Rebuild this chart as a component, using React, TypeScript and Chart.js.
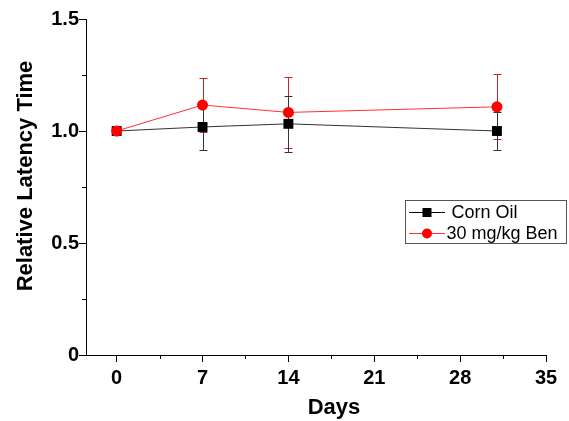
import React, { useEffect, useRef } from "react";
import { Chart, registerables } from "chart.js";

Chart.register(...registerables);

const days = [0, 7, 14, 31];
const cornOil = [1.0, 1.018, 1.032, 1.0];
const cornOilErr = [0, 0.102, 0.126, 0.086];
const ben = [1.0, 1.116, 1.083, 1.108];
const benErr = [0, 0.121, 0.16, 0.145];

const xTicks = [0, 7, 14, 21, 28, 35];
const xMinorTicks = [3.5, 10.5, 17.5, 24.5, 31.5];
const yTicks = [0, 0.5, 1.0, 1.5];
const yMinorTicks = [0.25, 0.75, 1.25];

const seriesNames = ["Corn Oil", "30 mg/kg Ben"];
const xTitle = "Days";
const yTitle = "Relative Latency Time";

const FONT = '"Liberation Sans", Arial, sans-serif';

const W = 569;
const H = 421;

export default function App() {
  const ref = useRef<HTMLCanvasElement | null>(null);

  useEffect(() => {
    const canvas = ref.current;
    if (!canvas) return;

    const extras = {
      id: "extras",
      beforeDatasetsDraw(chart: any) {
        const ctx = chart.ctx;
        const xs = chart.scales.x;
        const ys = chart.scales.y;
        const drawErr = (vals: number[], errs: number[], color: string) => {
          ctx.save();
          ctx.strokeStyle = color;
          ctx.lineWidth = 1;
          vals.forEach((v, i) => {
            const e = errs[i];
            if (!e) return;
            const x = Math.round(xs.getPixelForValue(days[i])) + 0.5;
            const yt = Math.round(ys.getPixelForValue(v + e)) + 0.5;
            const yb = Math.round(ys.getPixelForValue(v - e)) + 0.5;
            ctx.beginPath();
            ctx.moveTo(x, yt);
            ctx.lineTo(x, yb);
            ctx.moveTo(x - 4, yt);
            ctx.lineTo(x + 4, yt);
            ctx.moveTo(x - 4, yb);
            ctx.lineTo(x + 4, yb);
            ctx.stroke();
          });
          ctx.restore();
        };
        drawErr(ben, benErr, "#d02020");
        drawErr(cornOil, cornOilErr, "#333333");
      },
      afterDraw(chart: any) {
        const ctx = chart.ctx;
        const xs = chart.scales.x;
        const ys = chart.scales.y;
        ctx.save();
        // minor ticks
        ctx.strokeStyle = "#000";
        ctx.lineWidth = 1;
        ctx.beginPath();
        const ax = chart.chartArea.left;
        const ay = chart.chartArea.bottom;
        yMinorTicks.forEach((v) => {
          const y = Math.round(ys.getPixelForValue(v)) + 0.5;
          ctx.moveTo(ax - 4, y);
          ctx.lineTo(ax, y);
        });
        xMinorTicks.forEach((v) => {
          const x = Math.round(xs.getPixelForValue(v)) + 0.5;
          ctx.moveTo(x, ay);
          ctx.lineTo(x, ay + 4);
        });
        ctx.stroke();

        // axis titles
        ctx.fillStyle = "#000";
        ctx.font = `bold 22px ${FONT}`;
        ctx.textAlign = "center";
        ctx.textBaseline = "alphabetic";
        ctx.fillText(xTitle, 334, 414);
        ctx.save();
        ctx.translate(32, 176);
        ctx.rotate(-Math.PI / 2);
        ctx.fillText(yTitle, 0, 0);
        ctx.restore();

        // legend
        const bx = 405.5, by = 200.5, bw = 161, bh = 43;
        ctx.strokeStyle = "#555";
        ctx.lineWidth = 1;
        ctx.strokeRect(bx, by, bw, bh);
        const rows = [
          { y: 212.5, color: "#000", style: "rect", tx: 451.5 },
          { y: 233.5, color: "#ff0000", style: "circle", tx: 446.5 },
        ];
        ctx.font = `18px ${FONT}`;
        ctx.textAlign = "left";
        ctx.textBaseline = "middle";
        rows.forEach((r, i) => {
          ctx.strokeStyle = r.color === "#000" ? "#000" : "#ff3030";
          ctx.beginPath();
          ctx.moveTo(409, r.y);
          ctx.lineTo(445, r.y);
          ctx.stroke();
          ctx.fillStyle = r.color;
          if (r.style === "rect") {
            ctx.fillRect(422.5, r.y - 4.5, 9, 9);
          } else {
            ctx.beginPath();
            ctx.arc(427, r.y, 5, 0, Math.PI * 2);
            ctx.fill();
          }
          ctx.fillStyle = "#000";
          ctx.fillText(seriesNames[i], r.tx, r.y + 1);
        });
        ctx.restore();
      },
    };

    const chart = new Chart(canvas, {
      type: "line",
      data: {
        datasets: [
          {
            label: seriesNames[0],
            data: days.map((d, i) => ({ x: d, y: cornOil[i] })),
            borderColor: "#333333",
            backgroundColor: "#000000",
            borderWidth: 1,
            pointStyle: "rect",
            pointRadius: 7,
            pointBorderWidth: 0,
            pointBackgroundColor: "#000",
            tension: 0,
            order: 1,
          },
          {
            label: seriesNames[1],
            data: days.map((d, i) => ({ x: d, y: ben[i] })),
            borderColor: "#ff3030",
            backgroundColor: "#ff0000",
            borderWidth: 1,
            pointStyle: "circle",
            pointRadius: 5.5,
            pointBorderWidth: 0,
            pointBackgroundColor: "#ff0000",
            tension: 0,
            order: 0,
          },
        ],
      },
      options: {
        responsive: false,
        animation: false,
        devicePixelRatio: 1,
        layout: { padding: { top: 19, right: 23, left: 0, bottom: 0 } },
        plugins: {
          legend: { display: false },
          tooltip: { enabled: false },
        },
        scales: {
          x: {
            type: "linear",
            min: -2.5,
            max: 35,
            afterBuildTicks: (s: any) => {
              s.ticks = xTicks.map((v) => ({ value: v }));
            },
            afterFit: (s: any) => {
              s.height = H - 355;
            },
            ticks: {
              color: "#000",
              font: { family: FONT, size: 20, weight: "bold" },
              padding: 4,
              maxRotation: 0,
              autoSkip: false,
            },
            grid: {
              drawOnChartArea: false,
              drawTicks: true,
              tickLength: 7,
              color: "#000",
            },
            border: { color: "#000", width: 1 },
          },
          y: {
            min: 0,
            max: 1.5,
            afterBuildTicks: (s: any) => {
              s.ticks = yTicks.map((v) => ({ value: v }));
            },
            afterFit: (s: any) => {
              s.width = 86;
            },
            ticks: {
              color: "#000",
              font: { family: FONT, size: 20, weight: "bold" },
              padding: 0,
              callback: (v: any) => (v === 0 ? "0" : Number(v).toFixed(1)),
            },
            grid: {
              drawOnChartArea: false,
              drawTicks: true,
              tickLength: 7,
              color: "#000",
            },
            border: { color: "#000", width: 1 },
          },
        },
      },
      plugins: [extras],
    } as any);

    return () => chart.destroy();
  }, []);

  return (
    <div style={{ position: "absolute", left: 0, top: 0, width: W, height: H, background: "#fff" }}>
      <canvas ref={ref} width={W} height={H} style={{ width: W, height: H, display: "block" }} />
    </div>
  );
}
